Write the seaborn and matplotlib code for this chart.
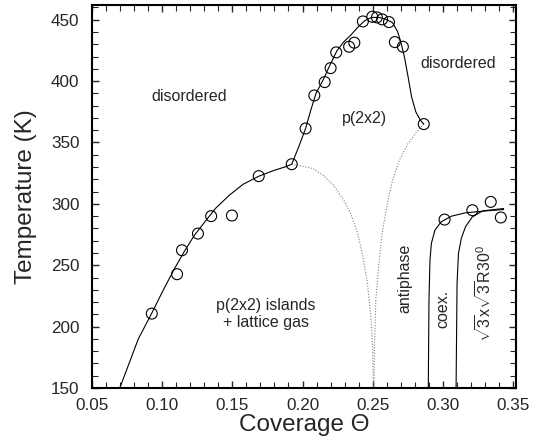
import matplotlib
matplotlib.use("Agg")
import matplotlib.pyplot as plt
import seaborn as sns
import pandas as pd
from matplotlib.ticker import MultipleLocator

# measured data points (coverage, temperature)
theta_pts = [0.0926, 0.1106, 0.1141, 0.1255, 0.1349, 0.1497, 0.1688, 0.1923,
             0.2022, 0.2084, 0.2158, 0.2200, 0.2240, 0.2332, 0.2369, 0.2430,
             0.2497, 0.2530, 0.2567, 0.2616, 0.2658, 0.2715, 0.2864,
             0.3012, 0.3210, 0.3341, 0.3413]
T_pts = [210.6, 242.7, 262.2, 275.8, 290, 290.5, 322.6, 332.3,
         361.4, 388.3, 399.2, 410.6, 423.4, 428, 431.3, 448.6,
         452.4, 451.9, 450.3, 448.1, 431.8, 428, 365,
         287.2, 294.8, 301.6, 288.9]

# solid phase boundary (lattice gas / p(2x2) -> disordered)
bnd1_theta = [0.0698, 0.0830, 0.0926, 0.1007, 0.1082, 0.1156, 0.1230, 0.1304,
              0.1379, 0.1478, 0.1577, 0.1688, 0.1800, 0.1874, 0.1923,
              0.1973, 0.2022, 0.2059, 0.2096, 0.2146, 0.2195, 0.2245, 0.2294,
              0.2344, 0.2393, 0.2443, 0.2492, 0.2542, 0.2591, 0.2641, 0.2678,
              0.2703, 0.2728, 0.2752, 0.2777, 0.2807, 0.2839, 0.2864]
bnd1_T = [150, 190, 211, 229.6, 246, 260.9, 274.5, 285.3,
          296.2, 307, 316, 322.5, 327.4, 330, 332.3,
          346.5, 361.4, 376.4, 390, 400.8, 413, 424.7, 432,
          437.5, 443.8, 449.2, 451.9, 451.9, 450.5, 447.6, 440.2,
          430.7, 418.5, 403.5, 387.2, 375, 368.2, 365]

# dotted boundaries of p(2x2) region
dot1_theta = [0.1923, 0.1997, 0.2072, 0.2146, 0.2220, 0.2294, 0.2344, 0.2393,
              0.2431, 0.2463, 0.2487, 0.2500, 0.2505]
dot1_T = [332.3, 330.7, 328.8, 323.4, 315.2, 303, 292, 275.8,
          256.8, 235, 207.9, 180.7, 150]
dot2_theta = [0.2864, 0.2814, 0.2752, 0.2690, 0.2641, 0.2604, 0.2567, 0.2542,
              0.2522, 0.2512, 0.2510]
dot2_T = [365, 358.7, 349.2, 335.6, 319.3, 300.3, 275.8, 248.6,
          221.5, 180.7, 150]

# antiphase / coexistence boundary
bnd2_theta = [0.2896, 0.2901, 0.2908, 0.2918, 0.2943, 0.2987, 0.3062, 0.3161,
              0.3309, 0.3433]
bnd2_T = [150, 221.5, 254, 267.7, 278.5, 285.3, 290, 292.7, 294.3, 295.4]
# coexistence / sqrt3 boundary
bnd3_theta = [0.3094, 0.3101, 0.3111, 0.3131, 0.3161, 0.3210, 0.3284, 0.3433]
bnd3_T = [150, 235, 259.5, 271.7, 281.3, 289.4, 294.3, 296.2]

sns.set_style("ticks")
plt.rcParams['font.family'] = ['Liberation Sans', 'DejaVu Sans']
plt.rcParams['mathtext.fontset'] = 'custom'
plt.rcParams['mathtext.rm'] = 'Liberation Sans'

fig = plt.figure(figsize=(5.46, 4.45), dpi=100)
ax = fig.add_axes([92 / 546, 1 - 388 / 445, (516 - 92) / 546, (388 - 5) / 445])

def line(x, y, **kw):
    df = pd.DataFrame({"x": x, "y": y})
    sns.lineplot(data=df, x="x", y="y", sort=False, estimator=None, ax=ax, **kw)

line(dot1_theta, dot1_T, color="0.5", lw=0.8, linestyle=(0, (1, 1.5)))
line(dot2_theta, dot2_T, color="0.5", lw=0.8, linestyle=(0, (1, 1.5)))
line(bnd1_theta, bnd1_T, color="black", lw=0.8)
line(bnd2_theta, bnd2_T, color="black", lw=0.8)
line(bnd3_theta, bnd3_T, color="black", lw=0.8)

pts = pd.DataFrame({"theta": theta_pts, "T": T_pts})
sns.scatterplot(data=pts, x="theta", y="T", ax=ax, s=62, marker="o",
                facecolor="none", edgecolor="black", linewidth=0.8, zorder=5)

ax.set_xlim(0.05, 0.3521)
ax.set_ylim(150, 462)
ax.set_xticks([0.05, 0.10, 0.15, 0.20, 0.25, 0.30, 0.35])
ax.set_xticklabels(["0.05", "0.10", "0.15", "0.20", "0.25", "0.30", "0.35"])
ax.set_yticks([150, 200, 250, 300, 350, 400, 450])
ax.xaxis.set_minor_locator(MultipleLocator(0.01))
ax.yaxis.set_minor_locator(MultipleLocator(10))
ax.tick_params(which="both", direction="in", top=True, right=True, labelsize=12.3)
ax.tick_params(axis="x", which="both", pad=7)
ax.tick_params(axis="y", which="both", pad=9)
ax.tick_params(which="major", length=5, width=1)
ax.tick_params(which="minor", length=4, width=0.8)
for s in ax.spines.values():
    s.set_linewidth(1.5)
    s.set_color("black")

ax.set_xlabel("Coverage Θ", fontsize=17.5, labelpad=1)
ax.set_ylabel("Temperature (K)", fontsize=17.5, labelpad=10)

fs = 11.5
ax.text(0.1193, 387.8, "disordered", fontsize=fs, ha="center", va="center")
ax.text(0.311, 414.4, "disordered", fontsize=fs, ha="center", va="center")
ax.text(0.2443, 369.6, "p(2x2)", fontsize=fs, ha="center", va="center")
ax.text(0.1738, 217.4, "p(2x2) islands", fontsize=fs, ha="center", va="center")
ax.text(0.1738, 203, "+ lattice gas", fontsize=fs, ha="center", va="center")
ax.text(0.2728, 239, "antiphase", fontsize=fs, ha="center", va="center", rotation=90)
ax.text(0.300, 214.7, "coex.", fontsize=fs, ha="center", va="center", rotation=90)
ax.text(0.3297, 227, r"$\sqrt{3}$x$\sqrt{3}$R30$^0$", fontsize=fs, ha="center", va="center",
        rotation=90)

fig.savefig("out.png", dpi=100)
